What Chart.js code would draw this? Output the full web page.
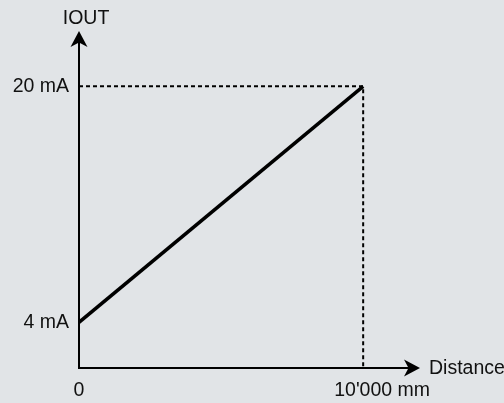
<!DOCTYPE html>
<html>
<head>
<meta charset="utf-8">
<script src="https://cdn.jsdelivr.net/npm/chart.js@4/dist/chart.umd.min.js"></script>
<style>
  html, body { margin: 0; padding: 0; background: #e1e4e7; }
  canvas { display: block; }
</style>
</head>
<body>
<canvas id="grafico" width="504" height="403"></canvas>
<script>
// output current against distance
const distancia = [0, 10000];
const corrente = [4, 20];
const rotulosX = ['0', "10'000 mm"];
const rotulosY = ['4 mA', '20 mA'];
const tituloX = 'Distance';
const tituloY = 'IOUT';

const yMin = 0.9, yMax = 23.75;
const xMin = 0, xMax = 12000;
const fonte = '19.5px "Liberation Sans", Arial, sans-serif';

function seta(ctx, x, y, dir) {
  // notched arrow head pointing up ('y') or right ('x')
  ctx.save();
  ctx.translate(x, y);
  if (dir === 'x') ctx.rotate(Math.PI / 2);
  ctx.beginPath();
  ctx.moveTo(0, 0);
  ctx.lineTo(8.5, 16);
  ctx.lineTo(0, 11.5);
  ctx.lineTo(-8.5, 16);
  ctx.closePath();
  ctx.fillStyle = '#000';
  ctx.fill();
  ctx.restore();
}

const eixos = {
  id: 'eixos',
  afterDatasetsDraw(chart) {
    const { ctx, scales: { x, y } } = chart;
    const x0 = x.getPixelForValue(xMin);
    const y0 = y.getPixelForValue(yMin);
    const xTopo = x.getPixelForValue(xMax);
    const yTopo = y.getPixelForValue(yMax);

    ctx.save();
    ctx.strokeStyle = '#000';
    ctx.lineWidth = 2;
    ctx.beginPath();
    ctx.moveTo(x0, yTopo + 10);
    ctx.lineTo(x0, y0);
    ctx.lineTo(xTopo - 10, y0);
    ctx.stroke();
    seta(ctx, x0, yTopo, 'y');
    seta(ctx, xTopo, y0, 'x');

    ctx.fillStyle = '#111';
    ctx.font = fonte;
    ctx.textBaseline = 'middle';

    ctx.textAlign = 'right';
    corrente.forEach((v, i) => {
      ctx.fillText(rotulosY[i], x0 - 10, y.getPixelForValue(v));
    });

    ctx.textAlign = 'left';
    distancia.forEach((v, i) => {
      // numeric part centred on its tick, unit trailing
      const num = rotulosX[i].split(' ')[0];
      const w = ctx.measureText(num).width;
      ctx.fillText(rotulosX[i], x.getPixelForValue(v) - w / 2, y0 + 23);
    });

    ctx.fillText(tituloX, xTopo + 9, y0 + 1);
    ctx.textAlign = 'center';
    ctx.fillText(tituloY, x0 + 7, yTopo - 12);
    ctx.restore();
  }
};

new Chart(document.getElementById('grafico'), {
  type: 'scatter',
  data: {
    datasets: [
      {
        data: distancia.map((d, i) => ({ x: d, y: corrente[i] })),
        showLine: true,
        borderColor: '#000',
        borderWidth: 3.5,
        pointRadius: 0,
        order: 1
      },
      {
        // guide lines to the full-scale point
        data: [
          { x: distancia[0], y: corrente[1] },
          { x: distancia[1], y: corrente[1] },
          { x: distancia[1], y: yMin }
        ],
        showLine: true,
        borderColor: '#000',
        borderWidth: 2,
        borderDash: [4, 3],
        pointRadius: 0,
        order: 2
      }
    ]
  },
  options: {
    responsive: false,
    animation: false,
    layout: { padding: { left: 79, right: 84, top: 31, bottom: 35 } },
    plugins: { legend: { display: false }, tooltip: { enabled: false } },
    scales: {
      x: { type: 'linear', min: xMin, max: xMax, display: false },
      y: { type: 'linear', min: yMin, max: yMax, display: false }
    }
  },
  plugins: [eixos]
});
</script>
</body>
</html>
